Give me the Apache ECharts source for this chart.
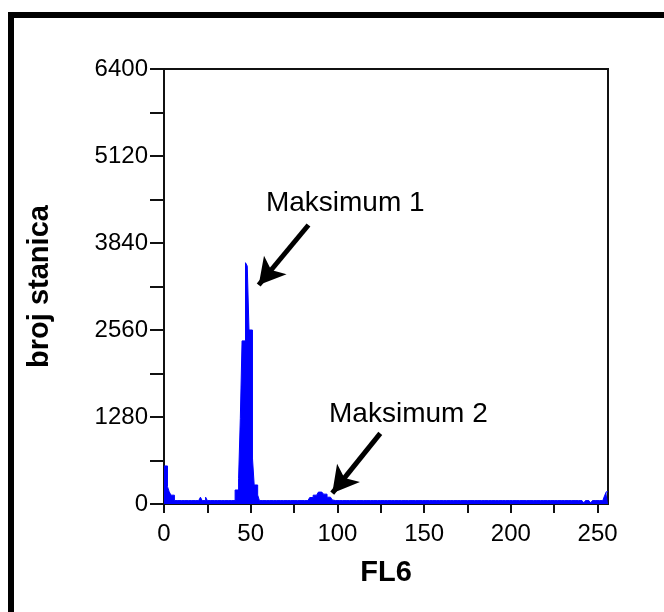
<!DOCTYPE html>
<html>
<head>
<meta charset="utf-8">
<script src="https://cdn.jsdelivr.net/npm/echarts@6/dist/echarts.min.js"></script>
<style>
  html, body { margin: 0; padding: 0; background: #fff; overflow: hidden; }
  #frame { position: absolute; left: 8px; top: 12px; width: 720px; height: 720px;
           border-left: 6px solid #000; border-top: 6px solid #000; box-sizing: border-box; }
  #chart { position: absolute; left: 0; top: 0; width: 664px; height: 612px; }
</style>
</head>
<body>
<div id="frame"></div>
<div id="chart"></div>
<script>
// Histogram counts per FL6 channel 0..255
const counts = [
  560,560,255,180,130,130,50,50,50,50,50,50,50,50,50,50,
  50,50,50,50,50,100,50,50,100,50,50,50,50,50,50,50,
  50,50,50,50,50,50,50,50,50,206,206,378,1260,2400,2400,3550,
  3500,2560,2560,676,280,280,132,50,50,50,50,50,50,50,50,50,
  50,50,50,50,50,50,50,50,50,50,50,50,50,50,50,50,
  50,50,50,60,95,95,130,130,130,175,175,185,145,145,100,100,
  100,60,50,50,50,50,50,50,50,50,50,50,50,50,50,50,
  50,50,50,50,50,50,50,50,50,50,50,50,50,50,50,50,
  50,50,50,50,50,50,50,50,50,50,50,50,50,50,50,50,
  50,50,50,50,50,50,50,50,50,50,50,50,50,50,50,50,
  50,50,50,50,50,50,50,50,50,50,50,50,50,50,50,50,
  50,50,50,50,50,50,50,50,50,50,50,50,50,50,50,50,
  50,50,50,50,50,50,50,50,50,50,50,50,50,50,50,50,
  50,50,50,50,50,50,50,50,50,50,50,50,50,50,50,50,
  50,50,50,50,50,50,50,50,50,50,50,50,50,50,50,50,
  50,50,15,50,50,50,15,50,50,50,50,50,50,50,120,180
];
const xTicks = [0,25,50,75,100,125,150,175,200,225,250];
const xLabels = [0,50,100,150,200,250];
const yTicks = [0,640,1280,1920,2560,3200,3840,4480,5120,5760,6400];
const yLabels = [0,1280,2560,3840,5120,6400];
const xTitle = 'FL6';
const yTitle = 'broj stanica';
// annotation texts and arrow anchors (data units)
const annoTexts = ['Maksimum 1', 'Maksimum 2'];
const annoTextAt = [[104.5, 4430], [140.9, 1324]];
const arrowFrom = [[83.3, 4105], [124.7, 1040]];
const arrowTo = [[54.6, 3222], [97.0, 160]];

const FONT = '"Liberation Sans", Arial, sans-serif';
const histData = counts.map((v, i) => [i, v]);
histData.push([counts.length, counts[counts.length - 1]]);

const chart = echarts.init(document.getElementById('chart'), null, { renderer: 'canvas' });
chart.setOption({
  animation: false,
  backgroundColor: 'transparent',
  grid: { left: 164, right: 56, top: 69, bottom: 108, show: true, borderColor: '#111', borderWidth: 2, backgroundColor: 'transparent' },
  xAxis: {
    type: 'value', min: 0, max: 256, interval: 25,
    name: xTitle, nameLocation: 'middle', nameGap: 54,
    nameTextStyle: { fontFamily: FONT, fontSize: 29, fontWeight: 'bold', color: '#000' },
    axisLine: { show: true, onZero: false, lineStyle: { color: '#111', width: 2 } },
    axisTick: { show: true, length: 9, lineStyle: { color: '#111', width: 2 }, customValues: xTicks },
    axisLabel: { fontFamily: FONT, fontSize: 24, color: '#000', margin: 18, customValues: xLabels,
                 formatter: v => String(v) },
    splitLine: { show: false }
  },
  yAxis: {
    type: 'value', min: 0, max: 6400, interval: 640,
    name: yTitle, nameLocation: 'middle', nameGap: 110,
    nameTextStyle: { fontFamily: FONT, fontSize: 29, fontWeight: 'bold', color: '#000' },
    axisLine: { show: true, lineStyle: { color: '#111', width: 2 } },
    axisTick: { show: true, length: 14, lineStyle: { color: '#111', width: 2 }, customValues: yTicks },
    axisLabel: { fontFamily: FONT, fontSize: 24, color: '#000', margin: 16, customValues: yLabels,
                 formatter: v => String(v) },
    splitLine: { show: false }
  },
  series: [{
    type: 'line',
    step: 'end',
    data: histData,
    symbol: 'none',
    lineStyle: { color: '#0000ff', width: 1 },
    areaStyle: { color: '#0000ff', opacity: 1 },
    z: 2,
    markLine: {
      silent: true,
      symbol: ['none', 'arrow'],
      symbolSize: [22, 26],
      lineStyle: { color: '#000', width: 5, type: 'solid' },
      label: { show: false },
      emphasis: { disabled: true },
      data: arrowFrom.map((p, i) => [{ coord: p }, { coord: arrowTo[i] }])
    },
    markPoint: {
      silent: true,
      symbol: 'circle',
      symbolSize: 0,
      label: { show: true, position: 'inside', fontFamily: FONT, fontSize: 28, color: '#000' },
      data: annoTexts.map((t, i) => ({ coord: annoTextAt[i], label: { formatter: t } }))
    }
  }]
});
</script>
</body>
</html>
